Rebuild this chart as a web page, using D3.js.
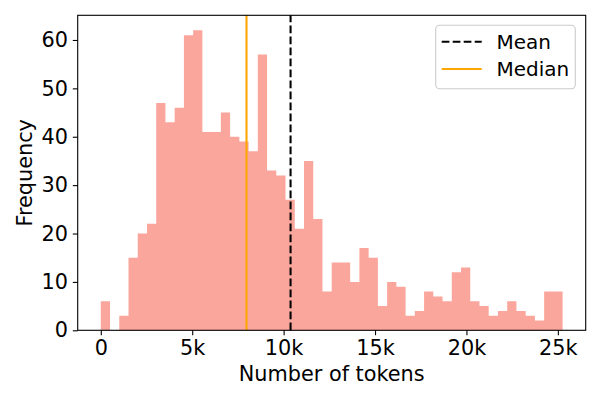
<!DOCTYPE html>
<html><head><meta charset="utf-8">
<script src="https://cdn.jsdelivr.net/npm/d3@7"></script>
<style>
html,body{margin:0;padding:0;background:#fff;}
svg{display:block;font-family:"DejaVu Sans",sans-serif;}
</style></head>
<body>
<svg id="chart" width="600" height="400"></svg>
<script>
// ---- data ----
const binCounts = [6,0,3,15,20,22,47,43,46,61,62,41,41,45,40,39,37,57,33,32,27,21,35,23,8,14,14,10,17,15,5,10,9,3,4,8,7,6,12,13,6,5,3,4,6,4,3,2,8,8];
const minTokens = 0;
const maxTokens = 25260;
const meanTokens = 10380;
const medianTokens = 7970;
const xTickValues = [0,5000,10000,15000,20000,25000];
const xTickLabels = ["0","5k","10k","15k","20k","25k"];
const yTickValues = [0,10,20,30,40,50,60];
const legendLabels = ["Mean","Median"];

// ---- layout ----
const L = 77.7, R = 585.7, T = 15.3, B = 330.3;
const svg = d3.select("#chart");
const nb = binCounts.length;
const bw = (maxTokens - minTokens) / nb;
const bins = binCounts.map((c,i)=>({x0:minTokens+i*bw, x1:minTokens+(i+1)*bw, c}));
const span = maxTokens - minTokens;
const x = d3.scaleLinear().domain([minTokens-0.05*span, maxTokens+0.05*span]).range([L,R]);
const yMax = d3.max(binCounts)*1.05;
const y = d3.scaleLinear().domain([0,yMax]).range([B,T]);

// bars as one path (no seams); salmon at alpha 0.7
const p = d3.path();
bins.filter(d=>d.c>0).forEach(d=>{
  p.rect(x(d.x0), y(d.c), x(d.x1)-x(d.x0), y(0)-y(d.c));
});
svg.append("path").attr("d", p.toString()).attr("fill","salmon").attr("fill-opacity",0.7);

svg.append("line").attr("x1",x(meanTokens)).attr("x2",x(meanTokens)).attr("y1",B).attr("y2",T)
  .attr("stroke","black").attr("stroke-width",2.08).attr("stroke-dasharray","7.7,3.3");
svg.append("line").attr("x1",x(medianTokens)).attr("x2",x(medianTokens)).attr("y1",B).attr("y2",T)
  .attr("stroke","orange").attr("stroke-width",2.08);

// axes
const fs = "20.8px";
const xAxis = svg.append("g").attr("transform",`translate(0,${B})`)
  .call(d3.axisBottom(x).tickValues(xTickValues).tickFormat((d,i)=>xTickLabels[i]).tickSize(4.9).tickPadding(4.9).tickSizeOuter(0));
const yAxis = svg.append("g").attr("transform",`translate(${L},0)`)
  .call(d3.axisLeft(y).tickValues(yTickValues).tickSize(4.9).tickPadding(4.9).tickSizeOuter(0));
[xAxis,yAxis].forEach(a=>{
  a.select(".domain").remove();
  a.selectAll(".tick line").attr("stroke","black").attr("stroke-width",1.1);
  a.selectAll(".tick text").attr("fill","black").style("font-size",fs).style("font-family","DejaVu Sans");
});
xAxis.selectAll(".tick text").attr("dy","0.74em");

// spines
svg.append("rect").attr("x",L).attr("y",T).attr("width",R-L).attr("height",B-T)
  .attr("fill","none").attr("stroke","black").attr("stroke-width",1.1);

// labels
svg.append("text").attr("x",(L+R)/2).attr("y",381).attr("text-anchor","middle")
  .style("font-size",fs).text("Number of tokens");
svg.append("text").attr("transform",`translate(32.3,${(T+B)/2}) rotate(-90)`).attr("text-anchor","middle")
  .style("font-size",fs).text("Frequency");

// legend
const lg = svg.append("g");
lg.append("rect").attr("x",435.7).attr("y",25.3).attr("width",139.6).attr("height",63.4)
  .attr("rx",4).attr("fill","white").attr("fill-opacity",0.8).attr("stroke","#cccccc").attr("stroke-width",1.1);
lg.append("line").attr("x1",441.7).attr("x2",481.7).attr("y1",41.7).attr("y2",41.7)
  .attr("stroke","black").attr("stroke-width",2.08).attr("stroke-dasharray","7.7,3.3");
lg.append("line").attr("x1",441.7).attr("x2",481.7).attr("y1",69).attr("y2",69)
  .attr("stroke","orange").attr("stroke-width",2.08);
lg.selectAll("text.lt").data(legendLabels).join("text").attr("class","lt")
  .attr("x",496.5).attr("y",(d,i)=>i===0?41.7:69).attr("dy","0.36em")
  .style("font-size","20px").text(d=>d);
</script>
</body></html>
